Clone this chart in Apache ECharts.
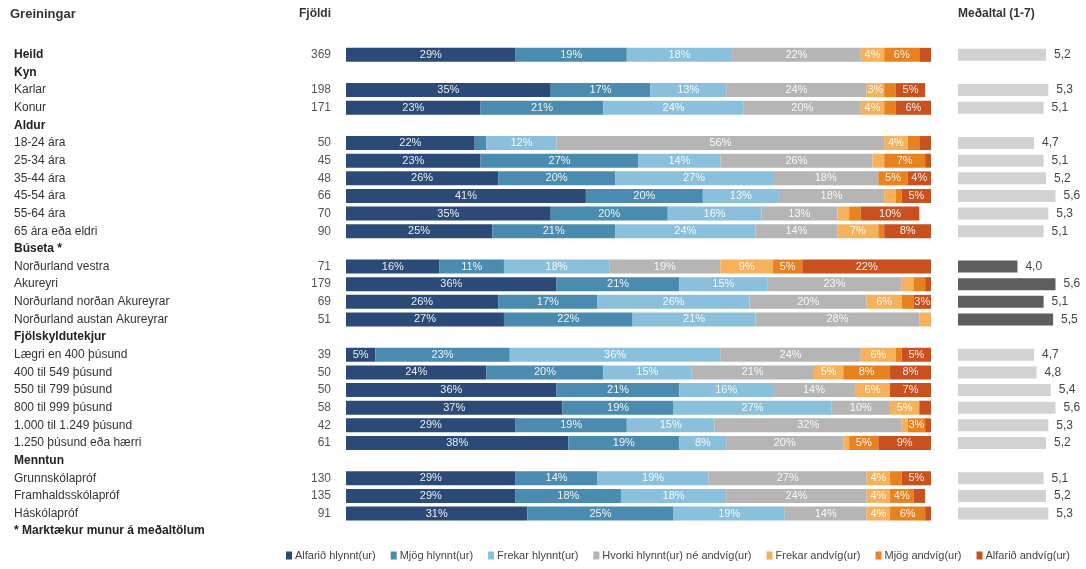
<!DOCTYPE html>
<html>
<head>
<meta charset="utf-8">
<script src="https://cdn.jsdelivr.net/npm/echarts@6/dist/echarts.min.js"></script>
<style>
  html, body { margin: 0; padding: 0; background: #fff; }
  #chart { width: 1086px; height: 569px; }
</style>
</head>
<body>
<div id="chart"></div>
<script>
// Flokkar (raðir) - fyrirsagnir hafa enga tölu
let categories = [
    'Heild', 'Kyn', 'Karlar', 'Konur', 'Aldur',
    '18-24 ára', '25-34 ára', '35-44 ára', '45-54 ára', '55-64 ára', '65 ára eða eldri',
    'Búseta *', 'Norðurland vestra', 'Akureyri', 'Norðurland norðan Akureyrar', 'Norðurland austan Akureyrar',
    'Fjölskyldutekjur', 'Lægri en 400 þúsund', '400 til 549 þúsund', '550 til 799 þúsund',
    '800 til 999 þúsund', '1.000 til 1.249 þúsund', '1.250 þúsund eða hærri',
    'Menntun', 'Grunnskólapróf', 'Framhaldsskólapróf', 'Háskólapróf',
    '* Marktækur munur á meðaltölum'
];
let headers = ['Heild', 'Kyn', 'Aldur', 'Búseta *', 'Fjölskyldutekjur', 'Menntun', '* Marktækur munur á meðaltölum'];
let counts = ['369', '', '198', '171', '', '50', '45', '48', '66', '70', '90', '', '71', '179', '69', '51',
    '', '39', '50', '50', '58', '42', '61', '', '130', '135', '91', ''];

let seriesNames = ['Alfarið hlynnt(ur)', 'Mjög hlynnt(ur)', 'Frekar hlynnt(ur)', 'Hvorki hlynnt(ur) né andvíg(ur)',
    'Frekar andvíg(ur)', 'Mjög andvíg(ur)', 'Alfarið andvíg(ur)'];
let seriesColors = ['#2b4a77', '#4a8cb0', '#8bc0dc', '#b5b5b5', '#f5b15c', '#e8821f', '#c9501f'];

let alfaridHlynnt = [29, '-', 35, 23, '-', 22, 23, 26, 41, 35, 25, '-', 16, 36, 26, 27, '-', 5, 24, 36, 37, 29, 38, '-', 29, 29, 31, '-'];
let mjogHlynnt    = [19, '-', 17, 21, '-', 2, 27, 20, 20, 20, 21, '-', 11, 21, 17, 22, '-', 23, 20, 21, 19, 19, 19, '-', 14, 18, 25, '-'];
let frekarHlynnt  = [18, '-', 13, 24, '-', 12, 14, 27, 13, 16, 24, '-', 18, 15, 26, 21, '-', 36, 15, 16, 27, 15, 8, '-', 19, 18, 19, '-'];
let hvorki        = [22, '-', 24, 20, '-', 56, 26, 18, 18, 13, 14, '-', 19, 23, 20, 28, '-', 24, 21, 14, 10, 32, 20, '-', 27, 24, 14, '-'];
let frekarAndvig  = [4, '-', 3, 4, '-', 4, 2, 0, 2, 2, 7, '-', 9, 2, 6, 2, '-', 6, 5, 6, 5, 1, 1, '-', 4, 4, 4, '-'];
let mjogAndvig    = [6, '-', 2, 2, '-', 2, 7, 5, 1, 2, 1, '-', 5, 2, 2, 0, '-', 1, 8, 0, 0, 3, 5, '-', 2, 4, 6, '-'];
let alfaridAndvig = [2, '-', 5, 6, '-', 2, 1, 4, 5, 10, 8, '-', 22, 1, 3, 0, '-', 5, 8, 7, 2, 1, 9, '-', 5, 2, 1, '-'];

// Meðaltal (1-7)
let medaltal = [5.2, '-', 5.3, 5.1, '-', 4.7, 5.1, 5.2, 5.6, 5.3, 5.1, '-', 4.0, 5.6, 5.1, 5.5,
    '-', 4.7, 4.8, 5.4, 5.6, 5.3, 5.2, '-', 5.1, 5.2, 5.3, '-'];
// raðir með marktækan mun (dekkri súlur)
let marktaekt = ['Norðurland vestra', 'Akureyri', 'Norðurland norðan Akureyrar', 'Norðurland austan Akureyrar'];

let fontFamily = '"Liberation Sans", Arial, sans-serif';
let chart = echarts.init(document.getElementById('chart'));

let stackData = [alfaridHlynnt, mjogHlynnt, frekarHlynnt, hvorki, frekarAndvig, mjogAndvig, alfaridAndvig];
let series = [];
for (let i = 0; i < stackData.length; i++) {
    series.push({
        name: seriesNames[i],
        type: 'bar',
        stack: 'svor',
        xAxisIndex: 0,
        yAxisIndex: 0,
        barWidth: 14,
        data: stackData[i],
        itemStyle: { color: seriesColors[i] },
        label: {
            show: true,
            position: 'inside',
            color: 'rgba(255,255,255,0.9)',
            fontSize: 11,
            fontFamily: fontFamily,
            formatter: function (p) {
                return p.value >= 3 ? p.value + '%' : '';
            }
        }
    });
}

series.push({
    name: 'Meðaltal',
    type: 'bar',
    xAxisIndex: 1,
    yAxisIndex: 2,
    barWidth: 12,
    data: medaltal.map(function (v, i) {
        if (v === '-') return '-';
        return {
            value: v,
            itemStyle: { color: marktaekt.indexOf(categories[i]) >= 0 ? '#5e5e5e' : '#d2d2d2' }
        };
    }),
    label: {
        show: true,
        position: 'right',
        distance: 8,
        color: '#444',
        fontSize: 12,
        fontFamily: fontFamily,
        formatter: function (p) {
            return p.value.toFixed(1).replace('.', ',');
        }
    }
});

let option = {
    animation: false,
    textStyle: { fontFamily: fontFamily },
    title: [
        { text: 'Greiningar', left: 5, top: 3, textStyle: { fontSize: 13, fontWeight: 'bold', color: '#333', fontFamily: fontFamily } },
        { text: 'Fjöldi', right: 750, top: 3, textStyle: { fontSize: 12, fontWeight: 'bold', color: '#333', fontFamily: fontFamily } },
        { text: 'Meðaltal (1-7)', left: 953, top: 3, textStyle: { fontSize: 12, fontWeight: 'bold', color: '#333', fontFamily: fontFamily } }
    ],
    legend: {
        bottom: 3,
        left: 281,
        width: 805,
        itemWidth: 6,
        itemHeight: 8,
        itemGap: 15,
        icon: 'rect',
        data: seriesNames,
        textStyle: { fontSize: 11, color: '#444', padding: [0, 0, 0, -2], fontFamily: fontFamily }
    },
    grid: [
        { left: 346, width: 585, top: 46, height: 494 },
        { left: 958, width: 107, top: 46, height: 494 }
    ],
    xAxis: [
        { type: 'value', gridIndex: 0, min: 0, max: 100, show: false },
        { type: 'value', gridIndex: 1, min: 1.5, max: 6, show: false }
    ],
    yAxis: [
        {
            type: 'category', gridIndex: 0, data: categories, inverse: true,
            axisLine: { show: false }, axisTick: { show: false },
            axisLabel: {
                align: 'left',
                margin: 332,
                fontSize: 12,
                color: '#333',
                fontFamily: fontFamily,
                formatter: function (v) {
                    return headers.indexOf(v) >= 0 ? '{b|' + v + '}' : v;
                },
                rich: { b: { fontWeight: 'bold', fontSize: 12, color: '#222', fontFamily: fontFamily } }
            }
        },
        {
            type: 'category', gridIndex: 0, data: counts, inverse: true, position: 'left',
            axisLine: { show: false }, axisTick: { show: false },
            axisLabel: { align: 'right', margin: 15, fontSize: 12, color: '#555', fontFamily: fontFamily }
        },
        {
            type: 'category', gridIndex: 1, data: categories, inverse: true, show: false
        }
    ],
    series: series
};

chart.setOption(option);
</script>
</body>
</html>
